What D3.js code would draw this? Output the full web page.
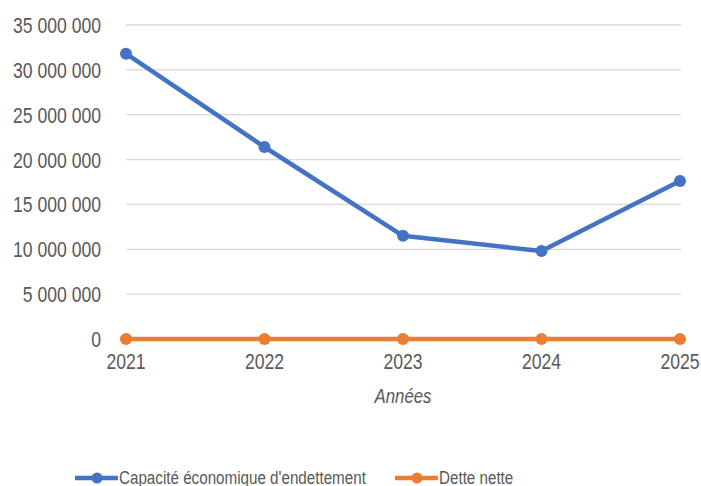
<!DOCTYPE html>
<html>
<head>
<meta charset="utf-8">
<script src="https://cdn.jsdelivr.net/npm/d3@7"></script>
<style>
  body { margin: 0; background: #fff; }
  svg text { font-family: "Liberation Sans", Arial, sans-serif; fill: #595959; }
</style>
</head>
<body>
<div id="vis"></div>
<script>
// chart data
var years = ['2021', '2022', '2023', '2024', '2025'];
var capacite = [31800000, 21400000, 11500000, 9800000, 17600000];
var detteNette = [0, 0, 0, 0, 0];
var yTicks = [0, 5000000, 10000000, 15000000, 20000000, 25000000, 30000000, 35000000];
var seriesNames = ['Capacité économique d\'endettement', 'Dette nette'];
var seriesColors = ['#4472C4', '#ED7D31'];

var width = 701;
var height = 486;
// the source font is condensed, so squeeze text horizontally
var squeeze = 0.8;

var svg = d3.select('#vis').append('svg')
  .attr('width', width)
  .attr('height', height);

// scales
var x = d3.scalePoint()
  .domain(years)
  .range([126, 680]);

var y = d3.scaleLinear()
  .domain([0, 35000000])
  .range([339, 25]);

// french style thousands separator
var fmt = function (v) {
  return d3.format(',')(v).replace(/,/g, ' ');
};

function place(px, py) {
  return 'translate(' + px + ',' + py + ') scale(' + squeeze + ',1)';
}

// gridlines
svg.append('g')
  .selectAll('line')
  .data(yTicks.filter(function (d) { return d > 0; }))
  .enter()
  .append('line')
  .attr('x1', 126)
  .attr('x2', 681)
  .attr('y1', function (d) { return y(d); })
  .attr('y2', function (d) { return y(d); })
  .attr('stroke', '#d9d9d9')
  .attr('stroke-width', 1.3);

// y labels
svg.append('g')
  .selectAll('text')
  .data(yTicks)
  .enter()
  .append('text')
  .attr('transform', function (d) { return place(101, y(d) + 8); })
  .attr('text-anchor', 'end')
  .style('font-size', '22px')
  .text(fmt);

// x labels
svg.append('g')
  .selectAll('text')
  .data(years)
  .enter()
  .append('text')
  .attr('transform', function (d) { return place(x(d), 369); })
  .attr('text-anchor', 'middle')
  .style('font-size', '22px')
  .text(function (d) { return d; });

svg.append('text')
  .attr('transform', place(x('2023'), 403))
  .attr('text-anchor', 'middle')
  .style('font-size', '21px')
  .style('font-style', 'italic')
  .text('Années');

// series
var series = [capacite, detteNette];
var line = d3.line()
  .x(function (d, i) { return x(years[i]); })
  .y(function (d) { return y(d); });

series.forEach(function (s, k) {
  svg.append('path')
    .datum(s)
    .attr('d', line)
    .attr('fill', 'none')
    .attr('stroke', seriesColors[k])
    .attr('stroke-width', 4.5)
    .attr('stroke-linejoin', 'round');

  svg.append('g')
    .selectAll('circle')
    .data(s)
    .enter()
    .append('circle')
    .attr('cx', function (d, i) { return x(years[i]); })
    .attr('cy', function (d) { return y(d); })
    .attr('r', 6)
    .attr('fill', seriesColors[k]);
});

// legend
var legendX = [75, 395];
seriesNames.forEach(function (name, k) {
  var gl = svg.append('g').attr('transform', 'translate(' + legendX[k] + ',478)');
  gl.append('line')
    .attr('x1', 0).attr('x2', 43)
    .attr('stroke', seriesColors[k])
    .attr('stroke-width', 4.5);
  gl.append('circle')
    .attr('cx', 22).attr('r', 5.5)
    .attr('fill', seriesColors[k]);
  gl.append('text')
    .attr('transform', place(44, 6))
    .style('font-size', '19px')
    .text(name);
});
</script>
</body>
</html>
